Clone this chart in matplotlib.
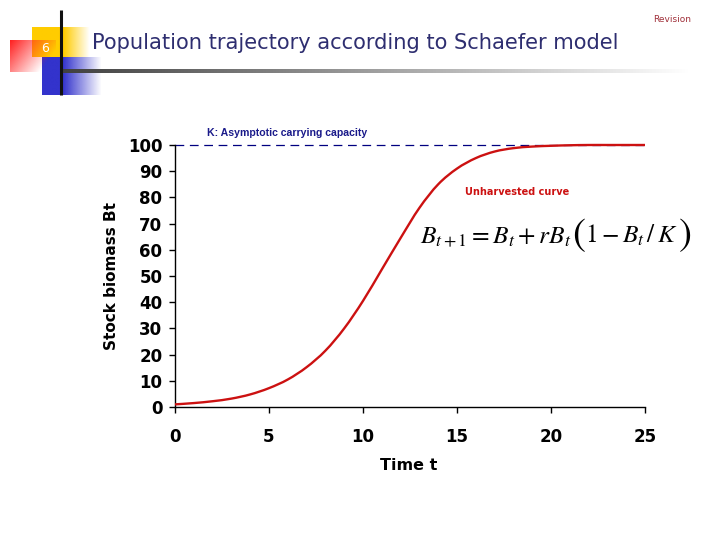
import numpy as np
import matplotlib
matplotlib.use("Agg")
import matplotlib.pyplot as plt
from matplotlib.path import Path
from matplotlib.patches import PathPatch

# ---- data ----
time_t = list(range(0, 26))
biomass = [1.0, 1.5, 2.2, 3.2, 4.8, 7.2, 10.5, 15.2, 21.5, 30.0, 40.5,
           52.5, 64.5, 76.0, 85.0, 91.0, 95.0, 97.5, 98.8, 99.4, 99.7,
           99.9, 100.0, 100.0, 100.0, 100.0]
carrying_capacity = 100
x_ticks = [0, 5, 10, 15, 20, 25]
y_ticks = [0, 10, 20, 30, 40, 50, 60, 70, 80, 90, 100]

title = "Population trajectory according to Schaefer model"
W, H = 720, 540

plt.rcParams["mathtext.fontset"] = "stix"
fig = plt.figure(figsize=(7.2, 5.4), dpi=100)
fig.patch.set_facecolor("white")

# ---- decoration overlay (pixel coordinates) ----
deco = fig.add_axes([0, 0, 1, 1], zorder=0)
deco.set_xlim(0, W)
deco.set_ylim(H, 0)
deco.axis("off")

def grad_rect(ax, x0, x1, y0, y1, rgb, alpha_fn, n=64):
    u = np.linspace(0, 1, n)
    v = np.linspace(0, 1, n)
    U, V = np.meshgrid(u, v)
    A = np.clip(alpha_fn(U, V), 0, 1)
    img = np.zeros((n, n, 4))
    img[..., 0], img[..., 1], img[..., 2] = rgb
    img[..., 3] = A
    ax.imshow(img, extent=[x0, x1, y1, y0], interpolation="bilinear",
              aspect="auto")

# yellow square
grad_rect(deco, 32, 90, 27, 57, (1.0, 0.80, 0.0),
          lambda U, V: np.where(U < 0.55, 1.0, 1 - (U - 0.55) / 0.45))
# blue square
grad_rect(deco, 42, 102, 57, 95, (0.2, 0.2, 0.8),
          lambda U, V: np.where(U < 0.35, 1.0, 1 - (U - 0.35) / 0.65))
# red square
grad_rect(deco, 10, 56, 40, 72, (1.0, 0.12, 0.12),
          lambda U, V: 1.0 - 0.85 * U - 0.45 * V)
# horizontal gradient line
n = 200
line_img = np.zeros((1, n, 4))
g = np.linspace(0.25, 1.0, n)
line_img[0, :, 0] = g
line_img[0, :, 1] = g
line_img[0, :, 2] = g
line_img[0, :, 3] = 1.0
deco.imshow(line_img, extent=[61, 690, 73.5, 69.5], interpolation="bilinear",
            aspect="auto")
# vertical line
deco.plot([61, 61], [10, 95], color="#111111", lw=2.2, solid_capstyle="butt")
deco.set_xlim(0, W)
deco.set_ylim(H, 0)

fig.text(45 / W, 1 - 48 / H, "6", color="white", fontsize=9,
         ha="center", va="center")
fig.text(92 / W, 1 - 43 / H, title, color="#2E2E70", fontsize=15.1,
         ha="left", va="center")
fig.text(672 / W, 1 - 20 / H, "Revision", color="#A0303A", fontsize=6.5,
         ha="center", va="center")

# ---- main chart ----
left, right, bottom, top = 175, 645, 407, 145
ax = fig.add_axes([left / W, 1 - bottom / H, (right - left) / W,
                   (bottom - top) / H], zorder=2)
ax.patch.set_alpha(0)

# smooth curve through the data points (Catmull-Rom as cubic Bezier)
xs = np.asarray(time_t, float)
ys = np.asarray(biomass, float)
verts = [(xs[0], ys[0])]
codes = [Path.MOVETO]
for i in range(len(xs) - 1):
    p0 = np.array([xs[max(i - 1, 0)], ys[max(i - 1, 0)]])
    p1 = np.array([xs[i], ys[i]])
    p2 = np.array([xs[i + 1], ys[i + 1]])
    p3 = np.array([xs[min(i + 2, len(xs) - 1)], ys[min(i + 2, len(xs) - 1)]])
    c1 = p1 + (p2 - p0) / 6.0
    c2 = p2 - (p3 - p1) / 6.0
    verts += [tuple(c1), tuple(c2), tuple(p2)]
    codes += [Path.CURVE4, Path.CURVE4, Path.CURVE4]
curve = PathPatch(Path(verts, codes), facecolor="none", edgecolor="#CC1111",
                  lw=1.7, clip_on=False, zorder=3)
ax.add_patch(curve)
ax.plot([time_t[0], time_t[-1]], [carrying_capacity, carrying_capacity],
        color="#000080", lw=0.9, dashes=(7, 4.5), clip_on=False, zorder=2)

ax.set_xlim(0, 25)
ax.set_ylim(0, 100)
ax.set_xticks(x_ticks)
ax.set_yticks(y_ticks)
ax.spines["top"].set_visible(False)
ax.spines["right"].set_visible(False)
for s in ("left", "bottom"):
    ax.spines[s].set_linewidth(1.0)
ax.tick_params(axis="both", direction="out", length=4, width=1,
               labelsize=12, pad=3)
ax.tick_params(axis="x", pad=11)
ax.tick_params(axis="y", pad=5)
for lab in ax.get_xticklabels() + ax.get_yticklabels():
    lab.set_fontweight("heavy")

fig.text(112 / W, 1 - 276 / H, "Stock biomass Bt", rotation=90,
         fontsize=11, fontweight="bold", ha="center", va="center")
fig.text(409 / W, 1 - 465 / H, "Time t", fontsize=11.5, fontweight="bold",
         ha="center", va="center")

fig.text(287 / W, 1 - 133 / H, "K: Asymptotic carrying capacity",
         family="Liberation Sans", fontsize=7.6, fontweight="bold",
         color="#1A1A8A", ha="center", va="center")
fig.text(517 / W, 1 - 192 / H, "Unharvested curve", fontsize=7,
         fontweight="bold", color="#CC1111", ha="center", va="center")

# ---- equation, built in pieces so the parentheses can be taller ----
renderer = fig.canvas.get_renderer()
base_y = 1 - 243 / H
pieces = [
    (r"$B_{t+1} = B_t + rB_t$", 18.3, 0.0),
    (r"$($", 28, -0.004),
    (r"$1 - B_t\,/\,K$", 18.3, 0.0),
    (r"$)$", 28, -0.004),
]
x_cur = 420.0
for txt, fs, dy in pieces:
    t = fig.text(x_cur / W, base_y + dy, txt, fontsize=fs, ha="left",
                 va="baseline", color="black")
    bb = t.get_window_extent(renderer=renderer)
    x_cur = bb.x1

fig.savefig("out.png", dpi=100, facecolor="white")
